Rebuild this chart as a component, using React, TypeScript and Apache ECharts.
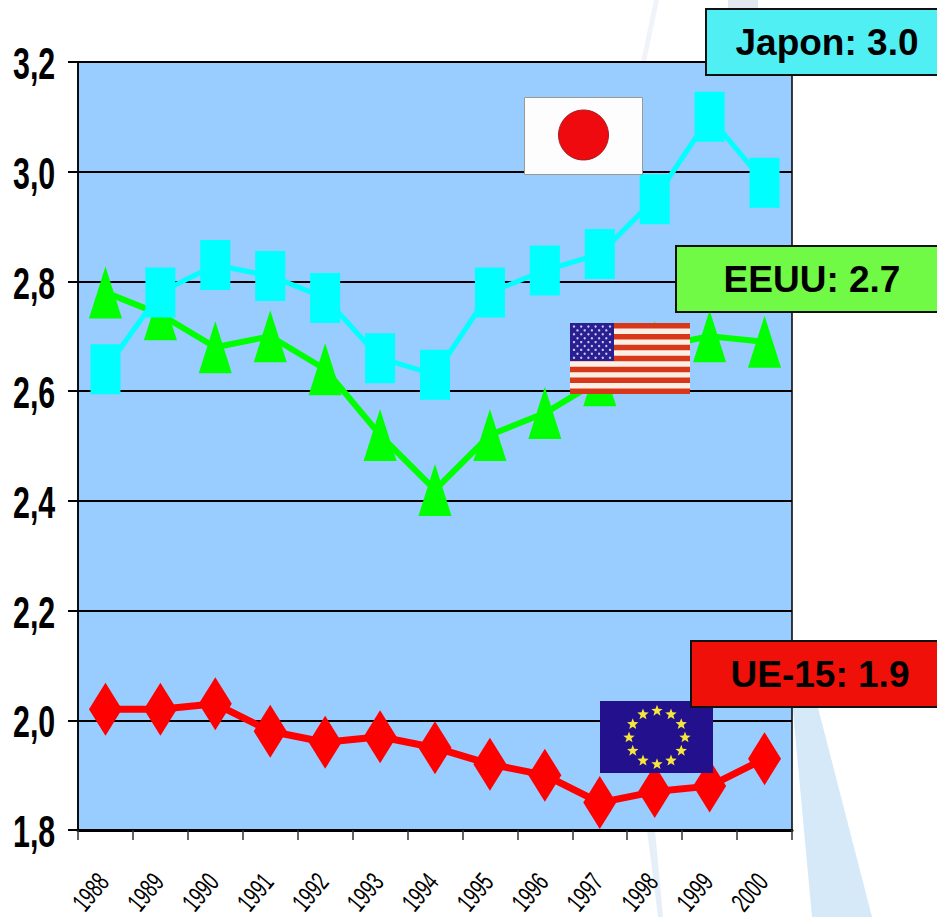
import React, { useEffect, useRef } from "react";
import * as echarts from "echarts";

const years = ["1988","1989","1990","1991","1992","1993","1994","1995","1996","1997","1998","1999","2000"];
const yTicks = [1.8,2.0,2.2,2.4,2.6,2.8,3.0,3.2];
const japan = [2.64,2.78,2.83,2.81,2.77,2.66,2.63,2.78,2.82,2.85,2.95,3.10,2.98];
const usa = [2.78,2.74,2.68,2.70,2.64,2.52,2.42,2.52,2.56,2.62,2.68,2.70,2.69];
const eu = [2.02,2.02,2.03,1.98,1.96,1.97,1.95,1.92,1.90,1.85,1.87,1.88,1.93];
const callouts = [
  { label: "Japon: 3.0", x: 706, y: 9, w: 233, h: 66, cx: 827, fill: "#50EFF3" },
  { label: "EEUU: 2.7", x: 676, y: 246, w: 263, h: 66, cx: 812, fill: "#70FA45" },
  { label: "UE-15: 1.9", x: 691, y: 641, w: 248, h: 66, cx: 820, fill: "#F0100A" },
];

function starPts(cx: number, cy: number, r: number) {
  const pts: number[][] = [];
  for (let i = 0; i < 10; i++) {
    const a = -Math.PI / 2 + (i * Math.PI) / 5;
    const rr = i % 2 === 0 ? r : r * 0.42;
    pts.push([cx + rr * Math.cos(a), cy + rr * Math.sin(a)]);
  }
  return pts;
}

function flagElements() {
  const els: any[] = [];
  const z = 20;
  els.push({ type: "rect", z, shape: { x: 524.5, y: 97.5, width: 118, height: 77 }, style: { fill: "#FDFDFD", stroke: "#999", lineWidth: 1 } });
  els.push({ type: "circle", z: z + 1, shape: { cx: 583.5, cy: 135, r: 25 }, style: { fill: "#EE0A0E", stroke: "#A02020", lineWidth: 1 } });
  const ux = 570, uy = 323, uw = 120, uh = 71;
  els.push({ type: "rect", z, shape: { x: ux, y: uy, width: uw, height: uh }, style: { fill: "#FBEFE6" } });
  for (let i = 0; i < 7; i++) {
    els.push({ type: "rect", z: z + 1, shape: { x: ux, y: uy + (i * 2 * uh) / 13, width: uw, height: uh / 13 }, style: { fill: "#D8381A" } });
  }
  els.push({ type: "rect", z: z + 2, shape: { x: ux, y: uy, width: 44, height: 38 }, style: { fill: "#2A1F90" } });
  for (let r = 0; r < 9; r++) {
    const n = r % 2 === 0 ? 6 : 5;
    for (let c = 0; c < n; c++) {
      els.push({ type: "circle", z: z + 3, shape: { cx: ux + (r % 2 === 0 ? 4 : 7.5) + c * 7.2, cy: uy + 3.5 + r * 3.9, r: 1.2 }, style: { fill: "#C8C8F0" } });
    }
  }
  const ex = 600, ey = 701, ew = 113, eh = 72;
  els.push({ type: "rect", z, shape: { x: ex, y: ey, width: ew, height: eh }, style: { fill: "#22108C" } });
  for (let i = 0; i < 12; i++) {
    const a = (i * Math.PI) / 6;
    els.push({ type: "polygon", z: z + 1, shape: { points: starPts(657 + 28 * Math.sin(a), 737.5 - 26.7 * Math.cos(a), 6) }, style: { fill: "#F5E53C" } });
  }
  return els;
}

function backgroundElements() {
  const z = -5;
  return [
    { type: "polygon", z, silent: true, shape: { points: [[792, 700], [816, 700], [872, 917], [812, 917]] }, style: { fill: "#D5E9F8" } },
    { type: "polygon", z, silent: true, shape: { points: [[647, 830], [655, 830], [663, 917], [658, 917]] }, style: { fill: "#E6EFF8" } },
    { type: "polygon", z, silent: true, shape: { points: [[641, 62], [654, 0], [659, 0], [646, 62]] }, style: { fill: "#F0F3F9" } },
    { type: "polygon", z, silent: true, shape: { points: [[728, 0], [758, 0], [758, 9], [728, 9]] }, style: { fill: "#E3E8F0" } },
  ];
}

function calloutElements() {
  const els: any[] = [];
  for (const c of callouts) {
    els.push({ type: "rect", z: 30, shape: { x: c.x, y: c.y, width: c.w, height: c.h }, style: { fill: c.fill, stroke: "#111", lineWidth: 2 } });
    els.push({
      type: "text", z: 31, x: c.cx, y: c.y + c.h / 2,
      style: { text: c.label, fill: "#000", font: 'bold 37px "Liberation Sans", Arial, sans-serif', textAlign: "center", textVerticalAlign: "middle" },
    });
  }
  return els;
}

function tickLabelElements(chart: echarts.ECharts) {
  const els: any[] = [];
  for (const v of yTicks) {
    const py = chart.convertToPixel({ yAxisIndex: 0 }, v) as number;
    els.push({
      type: "text", z: 10, x: 13, y: py + 2, scaleX: 0.69,
      style: { text: v.toFixed(1).replace(".", ","), fill: "#000", font: 'bold 44px "Liberation Sans", Arial, sans-serif', textAlign: "left", textVerticalAlign: "middle" },
    });
  }
  for (const y of years) {
    const px = chart.convertToPixel({ xAxisIndex: 0 }, y) as number;
    els.push({
      type: "text", z: 10, x: px - 15, y: 892, scaleX: 0.66, rotation: (50 * Math.PI) / 180,
      style: { text: y, fill: "#000", font: '27px "Liberation Sans", Arial, sans-serif', textAlign: "center", textVerticalAlign: "middle" },
    });
  }
  return els;
}

function makeSeries(name: string, data: number[], color: string, symbol: string, size: number[], lw: number) {
  return { name, type: "line", data, symbol, symbolSize: size, showSymbol: true, showAllSymbol: true, itemStyle: { color }, lineStyle: { color, width: lw }, z: 5 };
}

export default function App() {
  const ref = useRef<HTMLDivElement>(null);
  useEffect(() => {
    const chart = echarts.init(ref.current!, undefined, { renderer: "svg" });
    chart.setOption({
      animation: false,
      backgroundColor: "#fff",
      grid: { left: 78, right: 145, top: 62, bottom: 87, show: true, backgroundColor: "#99CCFF", borderColor: "#000", borderWidth: 1.5 },
      xAxis: {
        type: "category", data: years, boundaryGap: true,
        axisLine: { lineStyle: { color: "#000", width: 3 } },
        axisTick: { show: true, alignWithLabel: false, interval: 0, length: 10, lineStyle: { color: "#333", width: 1.5 } },
        axisLabel: { show: false },
        splitLine: { show: false },
      },
      yAxis: {
        type: "value", min: 1.8, max: 3.2, interval: 0.2,
        axisLine: { show: true, lineStyle: { color: "#000", width: 1.5 } },
        axisTick: { show: true, length: 10, lineStyle: { color: "#000", width: 2 } },
        axisLabel: { show: false },
        splitLine: { show: true, lineStyle: { color: "#000", width: 2 } },
      },
      series: [
        makeSeries("UE-15", eu, "#FF0000", "diamond", [33, 53], 7),
        makeSeries("EEUU", usa, "#00FF00", "triangle", [33, 52], 6),
        makeSeries("Japon", japan, "#00FFFF", "rect", [30, 50], 5),
      ],
    });
    chart.setOption({
      graphic: { elements: [...backgroundElements(), ...tickLabelElements(chart), ...flagElements(), ...calloutElements()] },
    });
    return () => chart.dispose();
  }, []);
  return <div ref={ref} style={{ position: "fixed", left: 0, top: 0, width: 937, height: 917 }} />;
}
